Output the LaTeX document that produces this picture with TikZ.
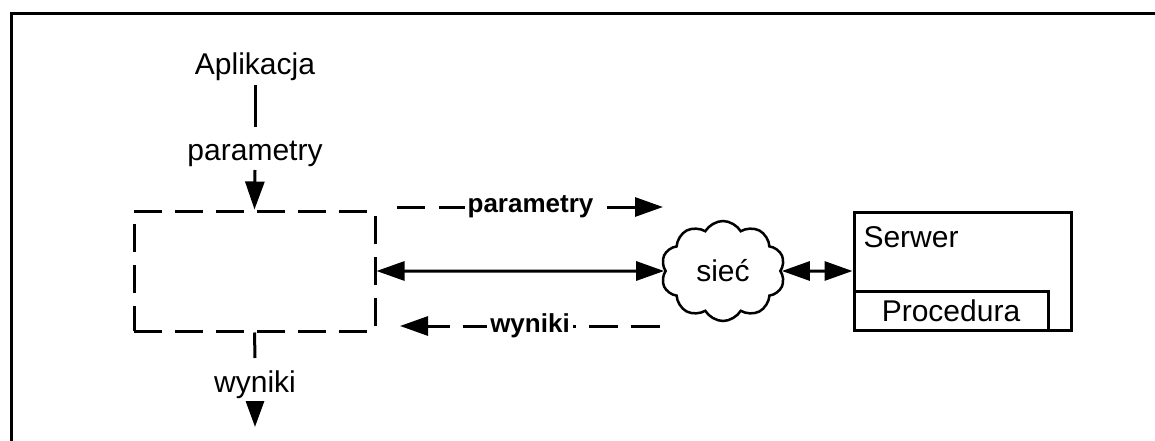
\documentclass[tikz,border=0pt]{standalone}
\usepackage{fontspec}
\setmainfont{Liberation Sans}
\usetikzlibrary{arrows.meta,shapes.symbols}
\begin{document}
\begin{tikzpicture}[x=1pt,y=-1pt,line width=3pt,
  txt/.style={font=\fontsize{30}{36}\selectfont,inner sep=0pt},
  lbl/.style={font=\fontsize{26}{31}\selectfont\bfseries,fill=white,inner xsep=3pt,inner ysep=2pt},
  tip/.style={-{Triangle[length=28pt,width=19pt]}},
  dtip/.style={{Triangle[length=28pt,width=19pt]}-{Triangle[length=28pt,width=19pt]}},
  boxdash/.style={dash pattern=on 28pt off 13pt},
  ]
\useasboundingbox (0,0) rectangle (1155,441);

% open frame (top and left edges only)
\draw (11,450) -- (11,14) -- (1165,14);

% client side
\node[txt,anchor=base] (app) at (255,75) {Aplikacja};
\node[txt,anchor=base] (par1) at (255,160) {parametry};
\node[draw,boxdash,minimum width=241pt,minimum height=120pt,inner sep=0pt] (stub) at (254.5,271) {};
\node[txt,anchor=base] (wyn1) at (255,392) {wyniki};
\coordinate (out) at (255,427);

\draw ([yshift=-10pt]app.base) -- ([yshift=33pt]par1.base);
\draw[tip] ([yshift=-10pt]par1.base) -- (stub.north);
\draw (stub.south) -- ([yshift=34pt]wyn1.base);
\draw[-{Triangle[length=26pt,width=18pt]}] ([yshift=-9pt]wyn1.base) -- (out);

% network
\node[cloud,draw,line width=2.5pt,cloud puffs=10,cloud puff arc=120,aspect=1.24,
      minimum width=124pt,minimum height=100pt,txt] (net) at (723,271) {sieć};

% server
\node[draw,minimum width=217pt,minimum height=118pt,inner sep=0pt] (srv) at (962.5,271) {};
\node[txt,anchor=base west] (srvname) at (862,247) {Serwer};
\node[draw,minimum width=194pt,minimum height=39pt,txt] (proc) at (951,310.5) {Procedura};

% connections
\draw[dtip] (stub.east) -- (net.west);
\draw[dtip] (net.east) -- (srv.west);

\coordinate (pA) at (397,207);
\coordinate (pB) at (663,207);
\draw[tip,dash pattern=on 28pt off 14pt] (pA) -- (pB);
\node[lbl] (plab) at (530.5,207) {parametry};

\coordinate (wA) at (660,326);
\coordinate (wB) at (400,326);
\draw[tip,dash pattern=on 29pt off 13pt] (wA) -- (wB);
\node[lbl] (wlab) at (530,326) {wyniki};
\end{tikzpicture}
\end{document}
